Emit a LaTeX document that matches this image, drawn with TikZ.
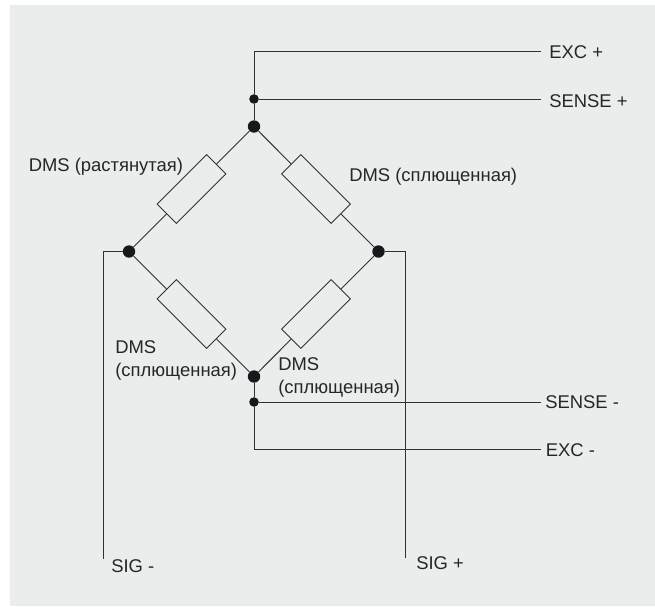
\documentclass[tikz,border=0pt]{standalone}
\usepackage{fontspec}
\setmainfont{Liberation Sans}
\definecolor{panelgray}{HTML}{EBEDED}
\definecolor{wiregray}{HTML}{2F3133}
\definecolor{dotblack}{HTML}{16181C}
\tikzset{
	wire/.style={draw=wiregray, line width=0.7pt},
	bigdot/.style={circle, fill=dotblack, inner sep=0pt, minimum size=0.31cm},
	smalldot/.style={circle, fill=dotblack, inner sep=0pt, minimum size=0.24cm},
	gauge/.style={draw=wiregray, line width=0.6pt, rotate=#1, inner sep=0pt, minimum width=1.75cm, minimum height=0.68cm},
	lbl/.style={anchor=base west, inner sep=0pt, text=black!85, font=\fontsize{13.1pt}{17pt}\selectfont},
	lbltwo/.style={lbl, anchor=west, align=left}
}
\begin{document}
\begin{tikzpicture}[x=0.025cm, y=-0.025cm]
		%%%%% START %%%%%
		\useasboundingbox (0, 0) rectangle (655, 606);
		\fill[panelgray] (10, 5) rectangle (655, 606);
		
		\coordinate (excptop) at (254, 51);
		\coordinate (excpend) at (540.5, 51);
		\coordinate (senspend) at (540.5, 99);
		\coordinate (sensmend) at (540.5, 402);
		\coordinate (excmbot) at (254, 449.5);
		\coordinate (excmend) at (540.5, 449.5);
		\coordinate (sigmtop) at (103, 251.5);
		\coordinate (sigmend) at (103, 559);
		\coordinate (sigptop) at (405, 251.5);
		\coordinate (sigpend) at (405, 558);
		
		\node[smalldot] (senspdot) at (254, 99) {};
		\node[bigdot] (topdot) at (254, 126.5) {};
		\node[bigdot] (leftdot) at (129, 251.5) {};
		\node[bigdot] (rightdot) at (378.5, 251.5) {};
		\node[bigdot] (botdot) at (254, 376.5) {};
		\node[smalldot] (sensmdot) at (254, 402) {};
		
		\node[gauge=45] (gaugetl) at (191.5, 189) {};
		\node[gauge=-45] (gaugetr) at (316, 189) {};
		\node[gauge=-45] (gaugebl) at (191.5, 314) {};
		\node[gauge=45] (gaugebr) at (316, 314) {};
		
		\draw[wire] (excpend) -- (excptop) -- (senspdot);
		\draw[wire] (senspdot) -- (senspend);
		\draw[wire] (senspdot) -- (topdot);
		\draw[wire] (topdot) -- (gaugetl);
		\draw[wire] (gaugetl) -- (leftdot);
		\draw[wire] (topdot) -- (gaugetr);
		\draw[wire] (gaugetr) -- (rightdot);
		\draw[wire] (leftdot) -- (gaugebl);
		\draw[wire] (gaugebl) -- (botdot);
		\draw[wire] (rightdot) -- (gaugebr);
		\draw[wire] (gaugebr) -- (botdot);
		\draw[wire] (botdot) -- (sensmdot);
		\draw[wire] (sensmdot) -- (sensmend);
		\draw[wire] (sensmdot) -- (excmbot) -- (excmend);
		\draw[wire] (leftdot) -- (sigmtop) -- (sigmend);
		\draw[wire] (rightdot) -- (sigptop) -- (sigpend);
		
		\node[lbl] (excplabel) at (549, 58) {EXC +};
		\node[lbl] (senspabel) at (549, 107) {SENSE +};
		\node[lbl] (sensmlabel) at (545, 408) {SENSE -};
		\node[lbl] (excmlabel) at (545.5, 456) {EXC -};
		\node[lbl] (sigmlabel) at (111, 572) {SIG -};
		\node[lbl] (sigplabel) at (416, 569.5) {SIG +};
		\node[lbl] (gaugetllabel) at (28.5, 171.5) {DMS (растянутая)};
		\node[lbl] (gaugetrlabel) at (349, 181.5) {DMS (сплющенная)};
		\node[lbltwo] (gaugebllabel) at (115, 360.5) {DMS\\(сплющенная)};
		\node[lbltwo] (gaugebrlabel) at (278, 377.5) {DMS\\(сплющенная)};
		%%%%% END %%%%%
	\end{tikzpicture}
\end{document}
